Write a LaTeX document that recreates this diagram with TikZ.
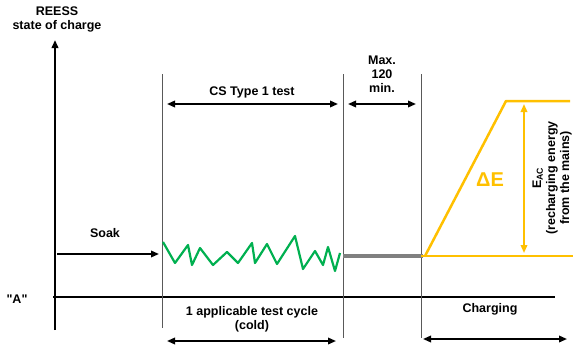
\documentclass[tikz,border=0pt]{standalone}
\usepackage{fontspec}
\setmainfont{Liberation Sans}
\usetikzlibrary{arrows.meta}
\definecolor{acgold}{HTML}{FFC000}
\definecolor{cygreen}{HTML}{00B050}
\begin{document}
\begin{tikzpicture}[x=1pt, y=-1pt, font=\fontsize{12.5}{14}\selectfont\bfseries, line join=round, >={Triangle[length=8pt,width=6.5pt]},
  axis/.style={line width=2.4pt},
  span/.style={line width=1.8pt},
  phaseline/.style={line width=0.8pt, black!65},
  lbl/.style={align=center, inner sep=0pt}]
\useasboundingbox (0,0) rectangle (573,346);
% axes
\coordinate (yb) at (55,330);
\coordinate (yt) at (55,40);
\coordinate (xa) at (53,297);
\coordinate (xb) at (555,297);
\draw[axis,->] (yb) -- (yt);
\draw[axis] (xa) -- (xb);
\node[lbl] (soc) at (57,19) {REESS\\state of charge};
\node[lbl] (A) at (17,299) {\textquotedbl A\textquotedbl};
% phase borders
\coordinate (p1t) at (162,74); \coordinate (p1b) at (162,328);
\coordinate (p2t) at (343,74); \coordinate (p2b) at (343,338);
\coordinate (p3t) at (421,74); \coordinate (p3b) at (421,338);
\draw[phaseline] (p1t) -- (p1b) (p2t) -- (p2b) (p3t) -- (p3b);
% soak
\coordinate (s0) at (57,254); \coordinate (s1) at (159,254);
\draw[span,->] (s0) -- (s1);
\node[lbl] (soak) at (105,233) {Soak};
% test and wait
\coordinate (c0) at (167,104); \coordinate (c1) at (338,104);
\draw[span,<->] (c0) -- (c1);
\node[lbl] (cs) at (252,92) {CS Type 1 test};
\coordinate (w0) at (348,104); \coordinate (w1) at (416,104);
\draw[span,<->] (w0) -- (w1);
\node[lbl] (wait) at (382,74) {Max.\\120\\min.};
% cycle
\draw[cygreen, line width=2.2pt] (163,242) -- (175,263) -- (188,245) -- (192,265) -- (200,248) -- (213,265)
  -- (227,252) -- (238,263) -- (252,243) -- (255,263) -- (267,244) -- (277,264) -- (295,236) -- (303,269)
  -- (315,251) -- (323,265) -- (328,247) -- (335,271) -- (340,253);
\coordinate (g0) at (343,256); \coordinate (g1) at (423,256);
\draw[gray, line width=3.6pt] (g0) -- (g1);
% charging
\coordinate (e0) at (421,256); \coordinate (e1) at (573,256);
\coordinate (r0) at (425,256); \coordinate (r1) at (506,101); \coordinate (r2) at (570,101);
\draw[acgold, line width=1.2pt] (e0) -- (e1);
\draw[acgold, line width=2.5pt] (r0) -- (r1) -- (r2);
\coordinate (d0) at (524,104); \coordinate (d1) at (524,253);
\draw[acgold, span, <->] (d0) -- (d1);
\node[lbl, acgold, font=\fontsize{20}{24}\selectfont\bfseries] (dE) at (490,180) {ΔE};
\node[lbl, rotate=90] (eac) at (552,178) {E\textsubscript{AC}\\(recharging energy\\from the mains)};
% bottom
\node[lbl] (cyc) at (252,319) {1 applicable test cycle\\(cold)};
\coordinate (b0) at (167,341); \coordinate (b1) at (336,341);
\draw[span,<->] (b0) -- (b1);
\node[lbl] (chg) at (490,309) {Charging};
\coordinate (h0) at (423,339); \coordinate (h1) at (567,339);
\draw[span,<->] (h0) -- (h1);
\end{tikzpicture}
\end{document}
